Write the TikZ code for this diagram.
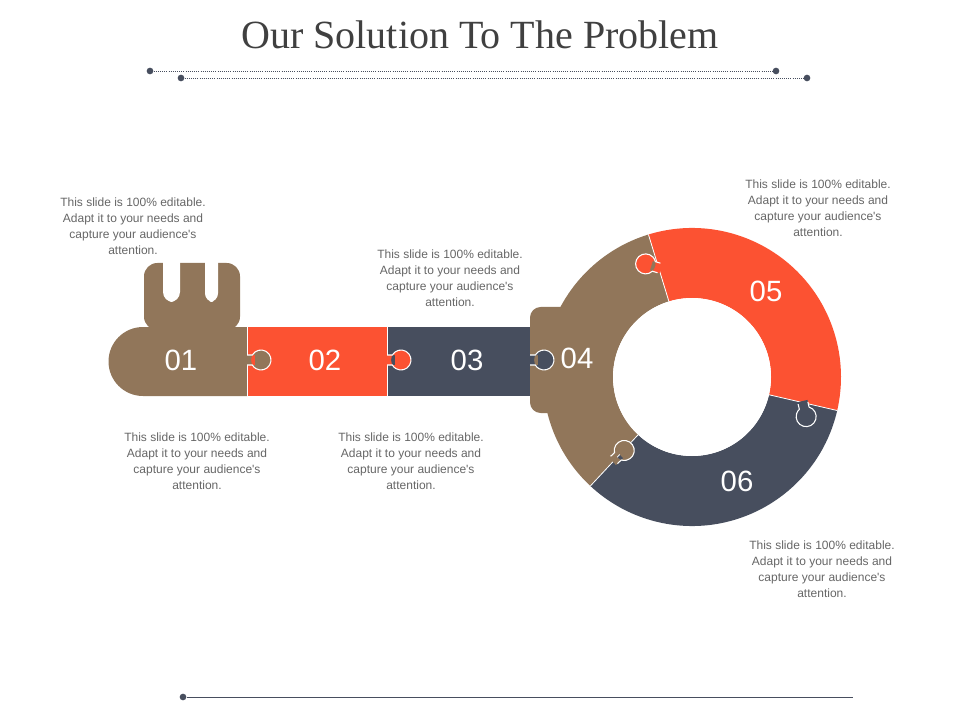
\documentclass[tikz,border=0pt]{standalone}
\usepackage{fontspec}
\setmainfont{Liberation Serif}
\newfontfamily\sansf{Liberation Sans}
\usetikzlibrary{calc}
\definecolor{brn}{HTML}{91765A}
\definecolor{org}{HTML}{FC5232}
\definecolor{drk}{HTML}{474E5E}
\definecolor{txt}{HTML}{666666}
\definecolor{ttl}{HTML}{404040}
\newcommand{\knob}[4]{%
\begin{scope}[shift={(#1,#2)},rotate=#3]
\fill[#4] (-2,-5) rectangle (8,5) (14,0) circle (10);
\draw[white,line width=0.8pt] (0,-5)--(5.34,-5) arc[start angle=-150,end angle=150,radius=10] -- (0,5);
\end{scope}}
\tikzset{
 desc/.style={font=\sansf\fontsize{9}{12}\selectfont,text=txt,align=center},
 num/.style={font=\sansf\fontsize{22}{26}\selectfont,text=white},
 dot/.style={circle,fill=drk,inner sep=0pt,minimum size=5pt}
}
\begin{document}
\begin{tikzpicture}[x=0.75pt,y=-0.75pt]
\useasboundingbox (0,0) rectangle (960,720);
\node[font=\fontsize{30}{34}\selectfont,text=ttl] (title) at (480,35) {Our Solution To The Problem};
\node[dot] (a1) at (150,71) {}; \node[dot] (a2) at (776,71) {};
\node[dot] (b1) at (181,78) {}; \node[dot] (b2) at (807,78) {};
\draw[drk,densely dotted,line width=0.6pt] (a1)--(a2);
\draw[drk,densely dotted,line width=0.6pt] (b1)--(b2);
\node[dot] (c1) at (183,697) {}; \coordinate (c2) at (853,697);
\draw[drk,line width=0.6pt] (c1)--(c2);
% key head
\fill[brn] (247,396) -- (143,396) arc[start angle=90,end angle=270,radius=34.5] -- (247,327) -- cycle;
\fill[brn,rounded corners=10] (144,330) -- (144,263) -- (240,263) -- (240,330) -- cycle;
\fill[white,rounded corners=7.5] (163,250) rectangle (180,302);
\fill[white,rounded corners=6.5] (205,250) rectangle (218,302);
\fill[white] (160,245) rectangle (222,262);
\fill[org] (247,327) rectangle (387,396);
\fill[drk] (387,327) rectangle (530,396);
\draw[white,line width=0.6pt] (247,327)--(247,396) (387,327)--(387,396);
% ring
\coordinate (C) at (692,377);
\def\R{149}\def\r{79}
\fill[brn] ($(C)+(133:\R)$) arc[start angle=133,end angle=253,radius=\R] -- ($(C)+(253:\r)$) arc[start angle=253,end angle=133,radius=\r] -- cycle;
\fill[org] ($(C)+(253:\R)$) arc[start angle=253,end angle=373,radius=\R] -- ($(C)+(373:\r)$) arc[start angle=373,end angle=253,radius=\r] -- cycle;
\fill[drk] ($(C)+(13:\R)$) arc[start angle=13,end angle=133,radius=\R] -- ($(C)+(133:\r)$) arc[start angle=133,end angle=13,radius=\r] -- cycle;
\fill[brn,rounded corners=8] (530,307) rectangle (575,413);
\draw[white,line width=0.6pt] ($(C)+(253:\r)$)--($(C)+(253:\R)$) ($(C)+(13:\r)$)--($(C)+(13:\R)$) ($(C)+(133:\r)$)--($(C)+(133:\R)$);
\fill[white] (C) circle (\r);
% knobs
\knob{247}{360}{0}{brn}
\knob{387}{360}{0}{org}
\knob{530}{360}{0}{drk}
\knob{659}{268}{163}{org}
\knob{803}{403}{-77}{drk}
\knob{614}{460}{43}{brn}
% numbers
\node[num] (n1) at (181,360) {01};
\node[num] (n2) at (325,360) {02};
\node[num] (n3) at (467,360) {03};
\node[num] (n4) at (577,358) {04};
\node[num] (n5) at (766,291) {05};
\node[num] (n6) at (737,481) {06};
% descriptions
\def\dtext{This slide is 100\% editable.\\Adapt it to your needs and\\capture your audience's\\attention.}
\node[desc] (d1) at (133,226) {\dtext};
\node[desc] (d2) at (450,278) {\dtext};
\node[desc] (d3) at (818,208) {\dtext};
\node[desc] (d4) at (197,461) {\dtext};
\node[desc] (d5) at (411,461) {\dtext};
\node[desc] (d6) at (822,569) {\dtext};
\end{tikzpicture}
\end{document}
